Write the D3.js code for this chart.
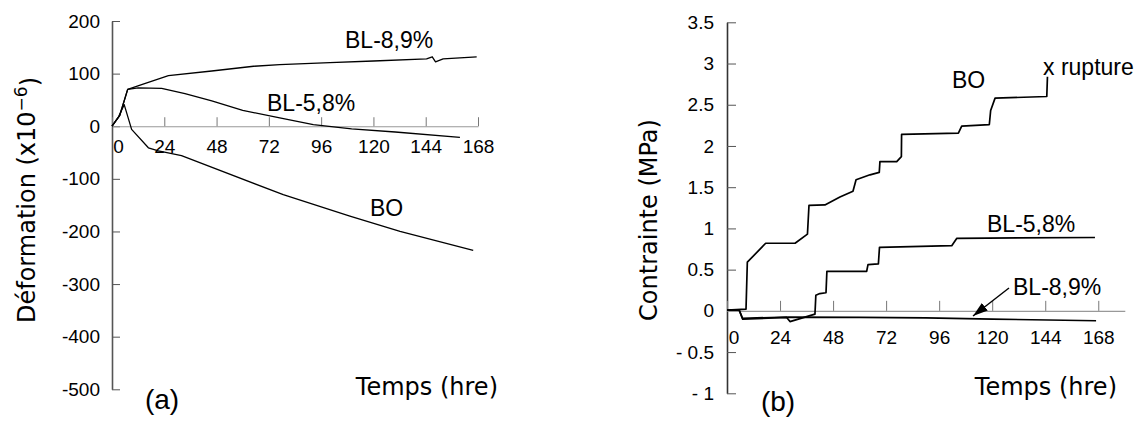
<!DOCTYPE html>
<html lang="fr">
<head>
  <meta charset="utf-8"/>
  <title>Déformation et contrainte</title>
  <script src="https://d3js.org/d3.v7.min.js"></script>
  <style>
    body { margin: 0; background: #fff; }
    .tick text { font-family: "Liberation Sans", Arial, sans-serif; font-size: 19px; fill: #000; }
    .titre { font-family: "DejaVu Sans", sans-serif; font-size: 24px; fill: #000; }
    .etiquette { font-family: "Liberation Sans", Arial, sans-serif; font-size: 23px; fill: #000; }
    .lettre { font-family: "Liberation Sans", Arial, sans-serif; font-size: 28px; fill: #000; }
    .courbe { fill: none; stroke: #000; stroke-linejoin: round; }
  </style>
</head>
<body>
<svg id="graphe" width="1145" height="422"></svg>

<script>
  // ticks
  const ticksTemps = [0, 24, 48, 72, 96, 120, 144, 168];
  const ticksDeformation = [200, 100, 0, -100, -200, -300, -400, -500];
  const ticksContrainte = [3.5, 3, 2.5, 2, 1.5, 1, 0.5, 0, -0.5, -1];
  const labelsContrainte = ["3.5", "3", "2.5", "2", "1.5", "1", "0.5", "0", "- 0.5", "- 1"];

  // (a) deformation (x10^-6) vs temps (hre)
  const tA_BL89 = [0, 3.5, 7.2, 13.6, 25.9, 45.8, 65, 77, 100, 120, 144.4, 147, 148.5, 152, 167.4];
  const dA_BL89 = [0, 20, 70, 79, 96, 105, 114, 117, 121, 124, 128, 132, 122.5, 128, 132];
  const tA_BL58 = [0, 3.5, 7.2, 12, 22.8, 33.5, 45.8, 60, 77, 92.4, 110, 130, 159.7];
  const dA_BL58 = [0, 20, 70, 73, 72, 62, 48, 30, 16, 3, -5, -11, -21];
  const tA_BO = [0, 3, 5.6, 9, 16.7, 21.3, 31.9, 78.6, 109.2, 132.2, 165.8];
  const dA_BO = [0, 18, 41, -6, -41, -47, -56, -130, -171, -200, -236];

  // (b) contrainte (MPa) vs temps (hre)
  const tB_BO = [0, 8.6, 9.2, 17.5, 30.8, 36.4, 37.1, 44.3, 51.1, 57, 58.4, 64.7, 68.9, 69.2, 76.8, 78.9, 79.0, 104.7, 106.2, 118.7, 119.3, 121.3, 144.7, 145];
  const cB_BO = [0.01, 0.02, 0.59, 0.82, 0.82, 0.93, 1.28, 1.285, 1.38, 1.45, 1.59, 1.65, 1.68, 1.81, 1.81, 1.87, 2.14, 2.155, 2.24, 2.26, 2.43, 2.58, 2.6, 2.84];
  const tB_BL58 = [0, 5.5, 7.1, 27, 28.5, 39.8, 40.2, 42, 44.8, 45.2, 63.2, 63.8, 68.5, 69, 101.7, 104, 166.5];
  const cB_BL58 = [0.01, 0.01, -0.1, -0.08, -0.13, -0.04, 0.19, 0.21, 0.22, 0.48, 0.48, 0.56, 0.57, 0.77, 0.79, 0.88, 0.89];
  const tB_BL89 = [0, 5.5, 7, 28, 60, 90, 120, 167];
  const cB_BL89 = [0.01, 0.01, -0.09, -0.075, -0.08, -0.085, -0.1, -0.12];

  const svg = d3.select("#graphe");

  // ---------- panneau (a) ----------
  const xA = d3.scaleLinear().domain([0, 168]).range([112, 478]);
  const yA = d3.scaleLinear().domain([-500, 200]).range([389.3, 21]);

  const axeYA = svg.append("g")
          .attr("transform", `translate(${xA(0)},0)`)
          .call(d3.axisLeft(yA).tickValues(ticksDeformation).tickSize(-8).tickSizeOuter(0).tickPadding(12)
                  .tickFormat(d => String(d)));
  axeYA.select(".domain").attr("stroke", "#555").attr("stroke-width", 1.6);
  axeYA.selectAll(".tick line").attr("stroke", "#555");

  const axeXA = svg.append("g")
          .attr("transform", `translate(0,${yA(0)})`)
          .call(d3.axisBottom(xA).tickValues(ticksTemps).tickSize(-9).tickSizeOuter(0).tickPadding(13));
  axeXA.select(".domain").attr("stroke", "#999").attr("stroke-width", 1.2);
  axeXA.selectAll(".tick line").attr("stroke", "#777");
  axeXA.selectAll(".tick text").filter(d => d === 0).attr("dx", 6);

  const ligneA = d3.line().x(d => xA(d[0])).y(d => yA(d[1]));
  [[tA_BL89, dA_BL89], [tA_BL58, dA_BL58], [tA_BO, dA_BO]].forEach(function (s) {
    svg.append("path")
            .attr("class", "courbe")
            .attr("stroke-width", 1.3)
            .attr("d", ligneA(d3.zip(s[0], s[1])));
  });

  svg.append("text").attr("class", "etiquette").attr("x", 345).attr("y", 48).text("BL-8,9%");
  svg.append("text").attr("class", "etiquette").attr("x", 267).attr("y", 111).text("BL-5,8%");
  svg.append("text").attr("class", "etiquette").attr("x", 370).attr("y", 216).text("BO");

  const titreYA = svg.append("text")
          .attr("class", "titre")
          .attr("text-anchor", "middle")
          .attr("transform", "translate(35,200) rotate(-90)");
  titreYA.append("tspan").text("Déformation (x10");
  titreYA.append("tspan").attr("dy", "-0.45em").style("font-size", "17px").text("−6");
  titreYA.append("tspan").attr("dy", "0.45em").text(")");

  svg.append("text").attr("class", "titre").attr("text-anchor", "end")
          .attr("x", 498).attr("y", 395).text("Temps (hre)");
  svg.append("text").attr("class", "lettre").attr("text-anchor", "middle")
          .attr("x", 162).attr("y", 409).text("(a)");

  // ---------- panneau (b) ----------
  const xB = d3.scaleLinear().domain([0, 180]).range([727, 1124.8]);
  const yB = d3.scaleLinear().domain([-1, 3.5]).range([393.3, 22.3]);

  const axeYB = svg.append("g")
          .attr("transform", `translate(${xB(0)},0)`)
          .call(d3.axisLeft(yB).tickValues(ticksContrainte).tickSize(-9).tickSizeOuter(0).tickPadding(13)
                  .tickFormat((d, i) => labelsContrainte[i]));
  axeYB.select(".domain").attr("stroke", "#333").attr("stroke-width", 1.6);
  axeYB.selectAll(".tick line").attr("stroke", "#555");

  const axeXB = svg.append("g")
          .attr("transform", `translate(0,${yB(0)})`)
          .call(d3.axisBottom(xB).tickValues(ticksTemps).tickSize(-10).tickSizeOuter(0).tickPadding(20));
  axeXB.select(".domain").attr("stroke", "#999").attr("stroke-width", 1.2);
  axeXB.selectAll(".tick line").attr("stroke", "#777");
  axeXB.selectAll(".tick text").filter(d => d === 0).attr("dx", 6.5);

  const ligneB = d3.line().x(d => xB(d[0])).y(d => yB(d[1]));
  [[tB_BL89, cB_BL89], [tB_BL58, cB_BL58], [tB_BO, cB_BO]].forEach(function (s) {
    svg.append("path")
            .attr("class", "courbe")
            .attr("stroke-width", 1.7)
            .attr("d", ligneB(d3.zip(s[0], s[1])));
  });

  svg.append("text").attr("class", "etiquette").attr("x", 952).attr("y", 88).text("BO");
  svg.append("text").attr("class", "etiquette").attr("x", 1043).attr("y", 75).text("x rupture");
  svg.append("text").attr("class", "etiquette").attr("x", 987).attr("y", 232).text("BL-5,8%");
  svg.append("text").attr("class", "etiquette").attr("x", 1013).attr("y", 295).text("BL-8,9%");

  // fleche vers BL-8,9%
  svg.append("defs").append("marker")
          .attr("id", "pointe")
          .attr("viewBox", "0 0 10 10")
          .attr("refX", 10).attr("refY", 5)
          .attr("markerWidth", 15).attr("markerHeight", 15)
          .attr("markerUnits", "userSpaceOnUse")
          .attr("orient", "auto")
          .append("path").attr("d", "M0,1.8 L10,5 L0,8.2 z").attr("fill", "#000");
  svg.append("line")
          .attr("x1", 1009).attr("y1", 288)
          .attr("x2", 973).attr("y2", 316)
          .attr("stroke", "#000").attr("stroke-width", 1.4)
          .attr("marker-end", "url(#pointe)");

  svg.append("text")
          .attr("class", "titre")
          .attr("text-anchor", "middle")
          .attr("transform", "translate(657,220) rotate(-90)")
          .text("Contrainte (MPa)");

  svg.append("text").attr("class", "titre").attr("text-anchor", "end")
          .attr("x", 1117).attr("y", 395).text("Temps (hre)");
  svg.append("text").attr("class", "lettre").attr("text-anchor", "middle")
          .attr("x", 778).attr("y", 411).text("(b)");
</script>
</body>
</html>
